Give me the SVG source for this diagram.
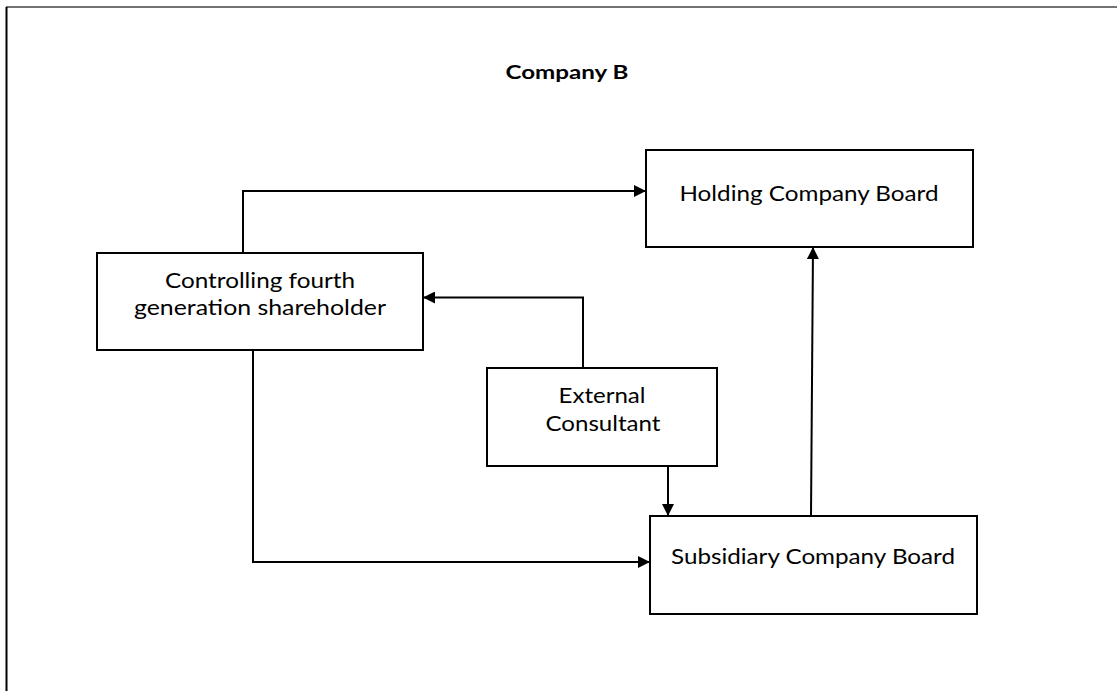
<svg xmlns="http://www.w3.org/2000/svg" width="1117" height="691" viewBox="0 0 1117 691">
  <style>
    .box { fill: #ffffff; stroke: #000000; stroke-width: 2; }
    .lbl { font-family: Lato, "Open Sans", "Liberation Sans", sans-serif; font-size: 21px; fill: #000000; text-anchor: middle; }
    .title { font-family: Lato, "Open Sans", "Liberation Sans", sans-serif; font-size: 19px; font-weight: bold; fill: #000000; text-anchor: middle; }
    .conn { fill: none; stroke: #000000; stroke-width: 2; marker-end: url(#arrow); }
  </style>
  <defs>
    <marker id="arrow" viewBox="0 0 12 12" refX="12" refY="6" markerWidth="12" markerHeight="12" markerUnits="userSpaceOnUse" orient="auto">
      <path d="M0,0 L12,6 L0,12 Z" fill="#000000"/>
    </marker>
  </defs>

  <rect width="1117" height="691" fill="#ffffff"/>

  <!-- page frame -->
  <g id="frame">
    <line x1="6" y1="7" x2="1117" y2="7" stroke="#444444" stroke-width="1.5"/>
    <line x1="6.5" y1="7" x2="6.5" y2="691" stroke="#000000" stroke-width="2"/>
  </g>

  <text id="title" class="title" x="567" y="79" textLength="123" lengthAdjust="spacingAndGlyphs">Company B</text>

  <!-- connectors -->
  <g id="connectors">
    <path class="conn" d="M243,252 V191 H646"/>
    <path class="conn" d="M583,368 V297.5 H423"/>
    <path class="conn" d="M668,466 V516"/>
    <path class="conn" d="M811,516 L813,247"/>
    <path class="conn" d="M253,351 V562 H650"/>
  </g>

  <g id="holding">
    <rect class="box" x="646" y="150" width="327" height="97"/>
    <text class="lbl" x="809" y="201" textLength="259" lengthAdjust="spacingAndGlyphs">Holding Company Board</text>
  </g>

  <g id="controlling">
    <rect class="box" x="97" y="253" width="326" height="97"/>
    <text class="lbl" x="260" y="288" textLength="190" lengthAdjust="spacingAndGlyphs">Controlling fourth</text>
    <text class="lbl" x="260" y="315" textLength="252" lengthAdjust="spacingAndGlyphs">generation shareholder</text>
  </g>

  <g id="external">
    <rect class="box" x="487" y="368" width="230" height="98"/>
    <text class="lbl" x="602" y="403" textLength="87" lengthAdjust="spacingAndGlyphs">External</text>
    <text class="lbl" x="603" y="431" textLength="115" lengthAdjust="spacingAndGlyphs">Consultant</text>
  </g>

  <g id="subsidiary">
    <rect class="box" x="650" y="516" width="327" height="98"/>
    <text class="lbl" x="813" y="564" textLength="284" lengthAdjust="spacingAndGlyphs">Subsidiary Company Board</text>
  </g>
</svg>
